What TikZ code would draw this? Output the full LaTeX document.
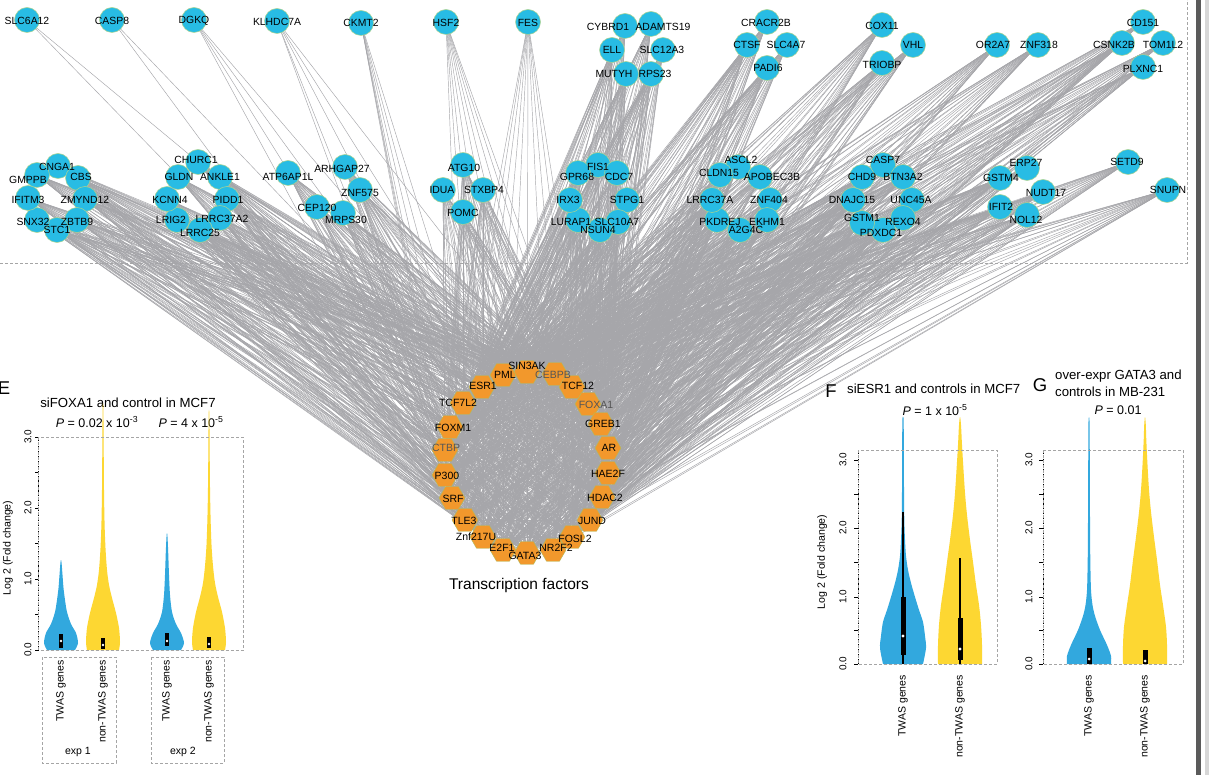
\documentclass[tikz,border=0pt]{standalone}
\usepackage{fontspec}
\setmainfont{Liberation Sans}
\usetikzlibrary{shapes.geometric}
\pgfdeclarelayer{bg}
\pgfdeclarelayer{fg}
\pgfsetlayers{bg,main,fg}
\definecolor{genec}{RGB}{40,188,228}
\definecolor{genebd}{RGB}{175,212,140}
\definecolor{tfc}{RGB}{242,152,44}
\definecolor{tfbd}{RGB}{175,190,95}
\definecolor{edgec}{RGB}{166,166,170}
\definecolor{vblue}{RGB}{50,168,222}
\definecolor{vyel}{RGB}{253,215,50}
\definecolor{dashc}{RGB}{165,165,165}
\definecolor{tfgray}{RGB}{85,85,85}
\definecolor{barc}{RGB}{90,90,90}
\definecolor{barl}{RGB}{215,215,215}
\newcommand{\gn}[6]{\node[gene] (#1) at (#2,#3) {};\begin{pgfonlayer}{fg}\node[glbl] (#1t) at (#4,#5) {#6};\end{pgfonlayer}}
\newcommand{\tfn}[7][black]{\node[tf] (#2) at (#3,#4) {};\begin{pgfonlayer}{fg}\node[tflbl,text=#1] (#2t) at (#5,#6) {#7};\end{pgfonlayer}}
\newcommand{\vio}[3]{\begin{scope}[shift={(#1,0)}]\fill[#2] plot[smooth,tension=0.5] coordinates {#3} -- cycle;\end{scope}}
\begin{document}
\begin{tikzpicture}[x=1pt,y=-1pt,
  gene/.style={circle,fill=genec,draw=genebd,line width=0.5pt,minimum size=25pt,inner sep=0pt},
  glbl/.style={font=\fontsize{10.4}{12}\selectfont,inner sep=0pt},
  tf/.style={regular polygon,regular polygon sides=6,minimum size=26pt,inner sep=0pt,fill=tfc,draw=tfbd,line width=0.4pt},
  tflbl/.style={font=\fontsize{10.5}{12}\selectfont,inner sep=0pt},
  edge/.style={draw=edgec,line width=0.45pt},
  dbox/.style={draw=dashc,line width=0.6pt,dash pattern=on 3pt off 2pt},
  ttl/.style={font=\fontsize{13.2}{15}\selectfont,inner sep=0pt},
  pval/.style={font=\fontsize{12.5}{14}\selectfont,inner sep=0pt},
  big/.style={font=\fontsize{18.5}{20}\selectfont,inner sep=0pt},
  ylab/.style={font=\fontsize{10.6}{12}\selectfont,inner sep=0pt,rotate=90},
  tickl/.style={font=\fontsize{10}{12}\selectfont,inner sep=0pt,rotate=90},
  xl/.style={font=\fontsize{10.5}{12}\selectfont,inner sep=0pt,rotate=90,anchor=east},
  axl/.style={line width=0.7pt,densely dotted},
  tk/.style={line width=0.6pt}]
\useasboundingbox (0,0) rectangle (1209,775);
\begin{pgfonlayer}{bg}
\fill[white] (0,0) rectangle (1209,775);
\draw[dbox] (0,263) -- (1187,263) -- (1187,0);
\end{pgfonlayer}
\fill[barc] (1196,0) rectangle (1201,775);
\fill[barl] (1205,0) rectangle (1209,775);
% ---------- top genes
\gn{slc6a12}{27}{20}{27}{21}{SLC6A12}
\gn{casp8}{112}{20}{112}{21}{CASP8}
\gn{dgkq}{194}{20}{194}{21}{DGKQ}
\gn{klhdc7a}{277}{21}{277}{22}{KLHDC7A}
\gn{ckmt2}{361}{23}{361}{23}{CKMT2}
\gn{hsf2}{446}{22}{446}{23}{HSF2}
\gn{fes}{528}{22}{528}{23}{FES}
\gn{cybrd1}{625}{26}{608}{27}{CYBRD1}
\gn{adamts19}{651}{24}{663}{27}{ADAMTS19}
\gn{ell}{612}{50}{612}{50}{ELL}
\gn{slc12a3}{663}{50}{662}{50}{SLC12A3}
\gn{mutyh}{626}{74}{614}{74}{MUTYH}
\gn{rps23}{651}{74}{655}{74}{RPS23}
\gn{cracr2b}{767}{22}{766}{23}{CRACR2B}
\gn{ctsf}{747}{45}{747}{45}{CTSF}
\gn{slc4a7}{787}{45}{786}{45}{SLC4A7}
\gn{padi6}{767}{68}{768}{68}{PADI6}
\gn{cox11}{882}{25}{882}{26}{COX11}
\gn{vhl}{913}{45}{913}{45}{VHL}
\gn{triobp}{882}{63}{882}{65}{TRIOBP}
\gn{or2a7}{997}{45}{993}{45}{OR2A7}
\gn{znf318}{1038}{45}{1039}{45}{ZNF318}
\gn{cd151}{1143}{22}{1143}{23}{CD151}
\gn{csnk2b}{1122}{43}{1114}{45}{CSNK2B}
\gn{tom1l2}{1163}{43}{1163}{45}{TOM1L2}
\gn{plxnc1}{1143}{67}{1143}{69}{PLXNC1}
% ---------- middle clusters
\gn{cnga1}{58}{166}{57}{167}{CNGA1}
\gn{cbs}{78}{178}{81}{177}{CBS}
\gn{zmynd12}{85}{199}{85}{200}{ZMYND12}
\gn{zbtb9}{77}{220}{77}{222}{ZBTB9}
\gn{stc1}{57}{230}{57}{230}{STC1}
\gn{snx32}{37}{220}{33}{222}{SNX32}
\gn{ifitm3}{28}{198}{28}{200}{IFITM3}
\gn{gmppb}{37}{175}{28}{180}{GMPPB}
\gn{churc1}{198}{162}{196}{160}{CHURC1}
\gn{ankle1}{220}{177}{220}{177}{ANKLE1}
\gn{pidd1}{227}{199}{228}{200}{PIDD1}
\gn{lrrc37a2}{220}{218}{222}{219}{LRRC37A2}
\gn{lrrc25}{200}{230}{200}{233}{LRRC25}
\gn{lrig2}{177}{220}{171}{220}{LRIG2}
\gn{kcnn4}{167}{199}{170}{200}{KCNN4}
\gn{gldn}{178}{177}{179}{177}{GLDN}
\gn{atp6ap1l}{288}{173}{288}{177}{ATP6AP1L}
\gn{arhgap27}{345}{167}{342}{169}{ARHGAP27}
\gn{znf575}{360}{190}{360}{193}{ZNF575}
\gn{mrps30}{343}{213}{346}{220}{MRPS30}
\gn{cep120}{317}{207}{317}{208}{CEP120}
\gn{atg10}{463}{165}{464}{168}{ATG10}
\gn{stxbp4}{483}{190}{484}{190}{STXBP4}
\gn{pomc}{463}{212}{463}{213}{POMC}
\gn{idua}{443}{190}{442}{190}{IDUA}
\gn{fis1}{598}{165}{598}{167}{FIS1}
\gn{cdc7}{617}{173}{619}{177}{CDC7}
\gn{stpg1}{627}{200}{627}{200}{STPG1}
\gn{slc10a7}{618}{222}{617}{222}{SLC10A7}
\gn{nsun4}{600}{230}{598}{230}{NSUN4}
\gn{lurap1}{578}{220}{571}{222}{LURAP1}
\gn{irx3}{570}{200}{568}{200}{IRX3}
\gn{gpr68}{578}{173}{577}{177}{GPR68}
\gn{ascl2}{738}{167}{741}{160}{ASCL2}
\gn{apobec3b}{760}{177}{772}{177}{APOBEC3B}
\gn{znf404}{770}{200}{769}{200}{ZNF404}
\gn{plekhm1}{767}{220}{767}{222}{EKHM1}
\gn{pla2g4c}{740}{230}{746}{230}{A2G4C}
\gn{pkdrej}{717}{220}{720}{222}{PKDREJ}
\gn{lrrc37a}{712}{200}{710}{200}{LRRC37A}
\gn{cldn15}{720}{175}{719}{173}{CLDN15}
\gn{casp7}{883}{165}{883}{160}{CASP7}
\gn{btn3a2}{903}{177}{903}{177}{BTN3A2}
\gn{unc45a}{912}{200}{911}{200}{UNC45A}
\gn{rexo4}{903}{218}{903}{222}{REXO4}
\gn{pdxdc1}{883}{230}{881}{233}{PDXDC1}
\gn{gstm1}{862}{223}{862}{218}{GSTM1}
\gn{dnajc15}{853}{200}{852}{200}{DNAJC15}
\gn{chd9}{862}{177}{862}{177}{CHD9}
\gn{gstm4}{1000}{178}{1001}{178}{GSTM4}
\gn{erp27}{1027}{168}{1026}{163}{ERP27}
\gn{nudt17}{1043}{192}{1046}{193}{NUDT17}
\gn{nol12}{1027}{215}{1026}{220}{NOL12}
\gn{ifit2}{1000}{207}{1001}{207}{IFIT2}
\gn{setd9}{1128}{162}{1127}{162}{SETD9}
\gn{snupn}{1167}{190}{1168}{190}{SNUPN}
% ---------- transcription factors
\tfn{sin3ak}{527}{372}{527}{366}{SIN3AK}
\tfn[tfgray]{cebpb}{555}{374}{553}{375}{CEBPB}
\tfn{tcf12}{572}{387}{578}{386}{TCF12}
\tfn[tfgray]{foxa1}{588}{404}{596}{405}{FOXA1}
\tfn{greb1}{601}{424}{603}{424}{GREB1}
\tfn{ar}{608}{448}{609}{448}{AR}
\tfn{hae2f}{608}{473}{608}{474}{HAE2F}
\tfn{hdac2}{602}{497}{605}{498}{HDAC2}
\tfn{jund}{590}{520}{592}{521}{JUND}
\tfn{fosl2}{572}{537}{575}{539}{FOSL2}
\tfn{nr2f2}{553}{550}{556}{548}{NR2F2}
\tfn{gata3}{527}{553}{525}{556}{GATA3}
\tfn{e2f1}{503}{550}{502}{548}{E2F1}
\tfn{znf217u}{483}{537}{476}{537}{Znf217U}
\tfn{tle3}{465}{520}{464}{521}{TLE3}
\tfn{srf}{452}{498}{453}{499}{SRF}
\tfn{p300}{445}{475}{447}{476}{P300}
\tfn[tfgray]{ctbp}{445}{450}{446}{448}{CTBP}
\tfn{foxm1}{450}{427}{453}{428}{FOXM1}
\tfn{tcf7l2}{463}{403}{458}{403}{TCF7L2}
\tfn{esr1}{482}{387}{483}{386}{ESR1}
\tfn{pml}{503}{375}{505}{375}{PML}
\node[font=\fontsize{15.5}{18}\selectfont,inner sep=0pt] (tftitle) at (519,585) {Transcription factors};
% ---------- edges
\def\TFs{sin3ak,cebpb,tcf12,foxa1,greb1,ar,hae2f,hdac2,jund,fosl2,nr2f2,gata3,e2f1,znf217u,tle3,srf,p300,ctbp,foxm1,tcf7l2,esr1,pml}
\begin{pgfonlayer}{bg}
\foreach \g in {cybrd1,adamts19,ell,slc12a3,mutyh,rps23,cracr2b,ctsf,slc4a7,padi6,cox11,vhl,triobp,or2a7,znf318,cd151,csnk2b,tom1l2,plxnc1,
  cnga1,cbs,zmynd12,zbtb9,stc1,snx32,ifitm3,gmppb,churc1,ankle1,pidd1,lrrc37a2,lrrc25,lrig2,kcnn4,gldn,
  atp6ap1l,arhgap27,znf575,mrps30,cep120,atg10,stxbp4,pomc,idua,fis1,cdc7,stpg1,slc10a7,nsun4,lurap1,irx3,gpr68,
  ascl2,apobec3b,znf404,plekhm1,pla2g4c,pkdrej,lrrc37a,cldn15,casp7,btn3a2,unc45a,rexo4,pdxdc1,gstm1,dnajc15,chd9,
  gstm4,erp27,nudt17,nol12,ifit2,setd9,snupn}{
  \foreach \t in \TFs {\draw[edge] (\g.center) -- (\t.center);}}
\foreach \t in {ctbp,hdac2} {\draw[edge] (slc6a12.center) -- (\t.center);}
\foreach \t in {e2f1,jund} {\draw[edge] (casp8.center) -- (\t.center);}
\foreach \t in {tle3,gata3,fosl2,hdac2} {\draw[edge] (dgkq.center) -- (\t.center);}
\foreach \t in {srf,znf217u,nr2f2,jund,ar} {\draw[edge] (klhdc7a.center) -- (\t.center);}
\foreach \t in {ctbp,p300,srf,tle3,znf217u,e2f1,gata3} {\draw[edge] (ckmt2.center) -- (\t.center);}
\foreach \t in {tle3,znf217u,e2f1,gata3,nr2f2,fosl2,jund,hdac2,hae2f} {\draw[edge] (hsf2.center) -- (\t.center);}
\foreach \t in {p300,srf,tle3,znf217u,e2f1,gata3,nr2f2,fosl2,jund,hdac2} {\draw[edge] (fes.center) -- (\t.center);}
\foreach \a [count=\i] in \TFs {\foreach \b [count=\j] in \TFs {\ifnum\j>\i \draw[edge] (\a.center) -- (\b.center);\fi}}
\end{pgfonlayer}
% ---------- panel E
\node[big,anchor=east] (elab) at (10.5,388) {E};
\node[ttl] (etitle) at (128,403) {siFOXA1 and control in MCF7};
\node[pval] (ep1) at (97,422) {\textit{P} = 0.02 x 10\textsuperscript{-3}};
\node[pval] (ep2) at (191,422) {\textit{P} = 4 x 10\textsuperscript{-5}};
\node[ylab] (eyl) at (8,548) {Log 2 (Fold change)};
\node[tickl] (e3) at (28,437) {3.0};
\node[tickl] (e2) at (28,508) {2.0};
\node[tickl] (e1) at (28,579) {1.0};
\node[tickl] (e0) at (28,650) {0.0};
\draw[axl] (38.5,437) -- (38.5,650);
\foreach \yy in {437,472.5,508,543.5,579,614.5,650} {\draw[tk] (38.5,\yy) -- (34.5,\yy);}
\vio{61}{vblue}{(14,650) (17,643) (15,633) (10,624) (6,612) (4,600) (2.5,588) (1.5,575) (0.6,563) (0,560) (-0.6,563) (-1.5,575) (-2.5,588) (-4,600) (-6,612) (-10,624) (-15,633) (-17,643) (-14,650)}
\vio{103}{vyel}{(16,650) (17,642) (16,628) (13,613) (9,598) (6,585) (4,570) (2.6,550) (1.6,525) (1,490) (0.7,450) (0.4,410) (0,403) (-0.4,410) (-0.7,450) (-1,490) (-1.6,525) (-2.6,550) (-4,570) (-6,585) (-9,598) (-13,613) (-16,628) (-17,642) (-16,650)}
\vio{167}{vblue}{(14,650) (17,643) (14,633) (9,624) (5,612) (3,595) (2,575) (1.2,552) (0.5,537) (0,533) (-0.5,537) (-1.2,552) (-2,575) (-3,595) (-5,612) (-9,624) (-14,633) (-17,643) (-14,650)}
\vio{209}{vyel}{(16,650) (17,642) (16,628) (13,612) (9,597) (6,583) (4,566) (2.5,545) (1.5,515) (0.9,480) (0.6,440) (0.3,413) (0,410) (-0.3,413) (-0.6,440) (-0.9,480) (-1.5,515) (-2.5,545) (-4,566) (-6,583) (-9,597) (-13,612) (-16,628) (-17,642) (-16,650)}
\fill[black] (59.2,634) rectangle (62.8,648);
\fill[white] (61,641) circle (1.3);
\fill[black] (101.2,638) rectangle (104.8,649);
\fill[white] (103,645) circle (1.3);
\fill[black] (165.2,633) rectangle (168.8,646);
\fill[white] (167,641) circle (1.3);
\fill[black] (207.2,637) rectangle (210.8,648);
\fill[white] (209,644) circle (1.3);
\draw[dbox] (38.5,437) rectangle (243,650);
\node[xl] (ex1) at (61,660) {TWAS genes};
\node[xl] (ex2) at (103,660) {non-TWAS genes};
\node[xl] (ex3) at (167,660) {TWAS genes};
\node[xl] (ex4) at (209,660) {non-TWAS genes};
\draw[dbox] (42,657) rectangle (116,763);
\draw[dbox] (151,657) rectangle (224,763);
\node[font=\fontsize{10.5}{12}\selectfont,inner sep=0pt] (exp1) at (78,752) {exp 1};
\node[font=\fontsize{10.5}{12}\selectfont,inner sep=0pt] (exp2) at (183,752) {exp 2};
% ---------- panel F
\node[big] (flab) at (831,391) {F};
\node[ttl,anchor=west] (ftitle) at (847,389) {siESR1 and controls in MCF7};
\node[pval] (fp) at (935,410) {\textit{P} = 1 x 10\textsuperscript{-5}};
\node[ylab] (fyl) at (822,562) {Log 2 (Fold change)};
\node[tickl] (f3) at (843,460) {3.0};
\node[tickl] (f2) at (843,528) {2.0};
\node[tickl] (f1) at (843,597) {1.0};
\node[tickl] (f0) at (843,664) {0.0};
\draw[axl] (858,450) -- (858,664);
\foreach \yy in {460,494,528,562.5,597,630.5,664} {\draw[tk] (858,\yy) -- (854,\yy);}
\vio{903}{vblue}{(20,664) (23,648) (22,636) (20,622) (16,610) (12,597) (8,583) (5,570) (3,556) (2,540) (1.3,520) (1,490) (0.9,450) (0.6,420) (0,417) (-0.6,420) (-0.9,450) (-1,490) (-1.3,520) (-2,540) (-3,556) (-5,570) (-8,583) (-12,597) (-16,610) (-20,622) (-22,636) (-23,648) (-20,664)}
\vio{960}{vyel}{(22,664) (22,645) (21,625) (19,605) (16,585) (13,562) (10,540) (7,515) (5,493) (3.5,470) (2,445) (1,425) (0,417) (-1,425) (-2,445) (-3.5,470) (-5,493) (-7,515) (-10,540) (-13,562) (-16,585) (-19,605) (-21,625) (-22,645) (-22,664)}
\draw[line width=1.1pt] (903,512) -- (903,664);
\fill[black] (900.5,597) rectangle (905.5,655);
\fill[white] (903,636) circle (1.7);
\draw[line width=1.1pt] (960,558) -- (960,664);
\fill[black] (957.5,618) rectangle (962.5,660);
\fill[white] (960,649) circle (1.7);
\draw[dbox] (858,450) rectangle (997,664);
\node[xl] (fx1) at (903,675) {TWAS genes};
\node[xl] (fx2) at (960,675) {non-TWAS genes};
% ---------- panel G
\node[big] (glab) at (1040,385) {G};
\node[ttl,anchor=west] (gtitle1) at (1055,376) {over-expr GATA3 and};
\node[ttl,anchor=west] (gtitle2) at (1055,392) {controls in MB-231};
\node[pval] (gp) at (1118,410) {\textit{P} = 0.01};
\node[tickl] (g3) at (1029,460) {3.0};
\node[tickl] (g2) at (1029,528) {2.0};
\node[tickl] (g1) at (1029,597) {1.0};
\node[tickl] (g0) at (1029,664) {0.0};
\draw[axl] (1043,450) -- (1043,664);
\foreach \yy in {460,494,528,562.5,597,630.5,664} {\draw[tk] (1043,\yy) -- (1039,\yy);}
\vio{1089}{vblue}{(22,664) (22,656) (18,645) (11,630) (6,616) (3.5,605) (2,590) (1.3,560) (1,520) (0.8,470) (0.6,425) (0,417) (-0.6,425) (-0.8,470) (-1,520) (-1.3,560) (-2,590) (-3.5,605) (-6,616) (-11,630) (-18,645) (-22,656) (-22,664)}
\vio{1145}{vyel}{(22,664) (22,645) (21,627) (18,605) (15,585) (12,560) (9,537) (6,512) (4,490) (2.5,465) (1.3,440) (0.8,425) (0,417) (-0.8,425) (-1.3,440) (-2.5,465) (-4,490) (-6,512) (-9,537) (-12,560) (-15,585) (-18,605) (-21,627) (-22,645) (-22,664)}
\fill[black] (1086.5,648) rectangle (1091.5,664);
\fill[white] (1089,659) circle (1.5);
\fill[black] (1142.5,650) rectangle (1147.5,664);
\fill[white] (1145,661) circle (1.5);
\draw[dbox] (1043,450) rectangle (1183,664);
\node[xl] (gx1) at (1089,675) {TWAS genes};
\node[xl] (gx2) at (1145,675) {non-TWAS genes};
\end{tikzpicture}
\end{document}
